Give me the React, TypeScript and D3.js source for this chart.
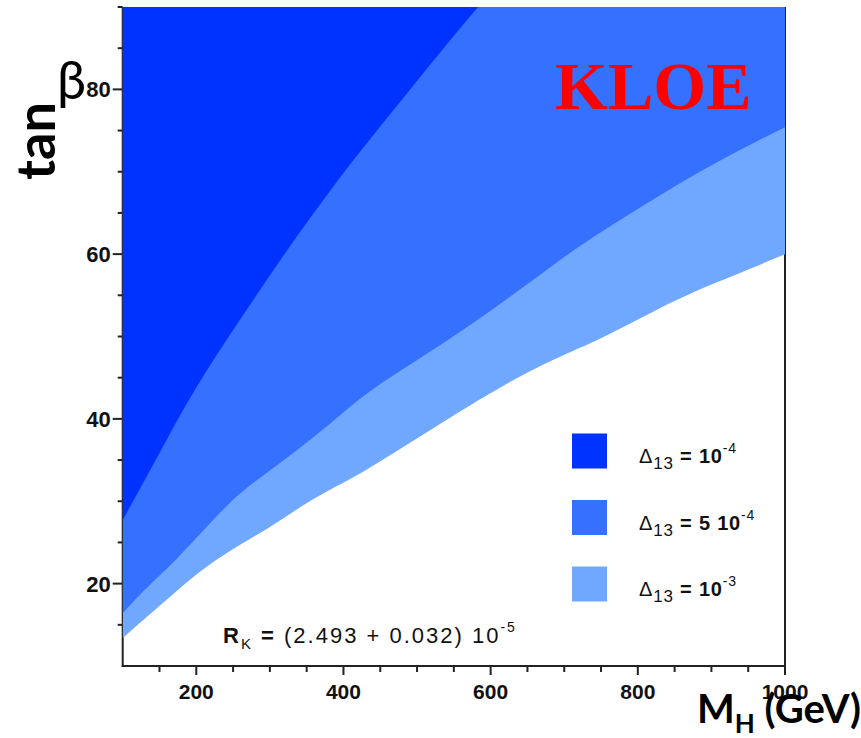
import React from "react";
import * as d3 from "d3";

// boundaries of the three excluded regions (lower edge of each band)
const mhDark = [100, 151, 196, 259, 323, 382, 436, 490, 545, 583];
const tbDark = [27.7, 36.0, 43.5, 52.0, 60.5, 67.8, 74.0, 79.9, 86.0, 90];

const mhMid = [100, 128, 174, 246, 287, 338, 399, 436, 500, 590, 681, 725, 812, 902, 1000];
const tbMid = [16.4, 19.2, 22.9, 30.1, 32.9, 36.2, 40.7, 43.5, 47.1, 52.4, 58.4, 61.3, 66.2, 71.0, 75.4];

const mhLight = [100, 128, 174, 219, 263, 310, 354, 399, 436, 545, 636, 704, 749, 857, 925, 1000];
const tbLight = [13.4, 15.6, 19.2, 22.5, 24.9, 27.4, 30.1, 32.2, 34.0, 40.2, 45.1, 48.0, 49.6, 54.8, 57.2, 60];

const xTicks = [150, 200, 250, 300, 350, 400, 450, 500, 550, 600, 650, 700, 750, 800, 850, 900, 950, 1000];
const xLabels = [200, 400, 600, 800, 1000];
const yTicks = [15, 20, 25, 30, 35, 40, 45, 50, 55, 60, 65, 70, 75, 80, 85, 90];
const yLabels = [20, 40, 60, 80];

const legendExp = ["-4", "-4", "-3"];
const legendMant = ["10", "5 10", "10"];
const colors = ["#0033ff", "#3670ff", "#70a8ff"];

export default function App() {
  const x = d3.scaleLinear().domain([100, 1000]).range([122.7, 785]);
  const y = d3.scaleLinear().domain([10, 90]).range([666, 7]);

  const area = d3
    .area<[number, number]>()
    .x((d) => x(d[0]))
    .y0((d) => y(d[1]))
    .y1(y(90))
    .curve(d3.curveBasis);

  const bands = [
    { mh: mhLight, tb: tbLight, color: colors[2] },
    { mh: mhMid, tb: tbMid, color: colors[1] },
    { mh: mhDark, tb: tbDark, color: colors[0] },
  ];

  const sans = "'Liberation Sans', Arial, sans-serif";
  const label = "Lato, 'Open Sans', sans-serif";

  return (
    <svg
      width={861}
      height={738}
      style={{ position: "absolute", left: 0, top: 0, background: "#fff" }}
    >
      <defs>
        <clipPath id="plot">
          <rect x={x(100)} y={y(90)} width={x(1000) - x(100)} height={y(10) - y(90)} />
        </clipPath>
      </defs>

      {/* frame */}
      <g stroke="#222" strokeWidth={2} fill="none">
        <line x1={x(100)} x2={x(100)} y1={y(90)} y2={y(10) + 1} />
        <line x1={x(100) - 1} x2={x(1000) + 1} y1={y(10)} y2={y(10)} />
        <line x1={x(1000)} x2={x(1000)} y1={y(90)} y2={y(10) + 1} />
      </g>

      {/* ticks */}
      <g stroke="#222" strokeWidth={2}>
        {yTicks.map((t) => (
          <line
            key={"y" + t}
            x1={x(100) - (yLabels.includes(t) ? 10 : 5)}
            x2={x(100)}
            y1={y(t)}
            y2={y(t)}
          />
        ))}
        {xTicks.map((t) => (
          <line
            key={"x" + t}
            x1={x(t)}
            x2={x(t)}
            y1={y(10)}
            y2={y(10) + (xLabels.includes(t) ? 9 : 6)}
          />
        ))}
      </g>
      <g fontFamily={sans} fontWeight="bold" fill="#111">
        {yLabels.map((t) => (
          <text key={t} x={x(100) - 12} y={y(t) + 8} textAnchor="end" fontSize={22}>
            {t}
          </text>
        ))}
        {xLabels.map((t) => (
          <text key={t} x={x(t)} y={y(10) + 33} textAnchor="middle" fontSize={21}>
            {t}
          </text>
        ))}
      </g>

      {/* filled regions */}
      <g clipPath="url(#plot)">
        {bands.map((b, i) => (
          <path
            key={i}
            d={area(b.mh.map((m, j) => [m, b.tb[j]] as [number, number])) || ""}
            fill={b.color}
          />
        ))}
      </g>

      <text
        x={555}
        y={109}
        fontFamily="'Liberation Serif', 'Times New Roman', serif"
        fontWeight="bold"
        fontSize={68}
        fill="#ff0000"
      >
        KLOE
      </text>

      {/* legend */}
      {colors.map((c, i) => {
        const cy = 451 + i * 66.5;
        return (
          <g key={c}>
            <rect x={572} y={cy - 17.5} width={35} height={35} fill={c} />
            <text x={639} y={cy + 12} fontFamily={sans} fontSize={20} fill="#111" letterSpacing={0.8}>
              <tspan>Δ</tspan>
              <tspan fontSize={17} dy={6}>13</tspan>
              <tspan dy={-6} fontWeight="bold"> = {legendMant[i]}</tspan>
              <tspan fontSize={14} dy={-10}>{legendExp[i]}</tspan>
            </text>
          </g>
        );
      })}

      <text x={223} y={643} fontFamily={sans} fontSize={22} fill="#111" letterSpacing={2}>
        <tspan fontWeight="bold">R</tspan>
        <tspan fontSize={15} dy={6}>K</tspan>
        <tspan dy={-6} fontWeight="bold"> = </tspan>
        <tspan>(2.493 + 0.032) 10</tspan>
        <tspan fontSize={14} dy={-11}>-5</tspan>
      </text>

      {/* axis titles */}
      <text
        transform="translate(55,180) rotate(-90)"
        fontFamily={label}
        fontWeight="bold"
        fontSize={54}
        fill="#000"
      >
        tan
      </text>
      <text x={57} y={99} fontFamily={label} fontSize={52} fill="#000">
        β
      </text>
      <text x={697} y={723} fontFamily={label} fontWeight="bold" fontSize={40} fill="#000">
        M
        <tspan fontSize={26} dy={10}>H</tspan>
        <tspan dy={-10}> (GeV)</tspan>
      </text>
    </svg>
  );
}
